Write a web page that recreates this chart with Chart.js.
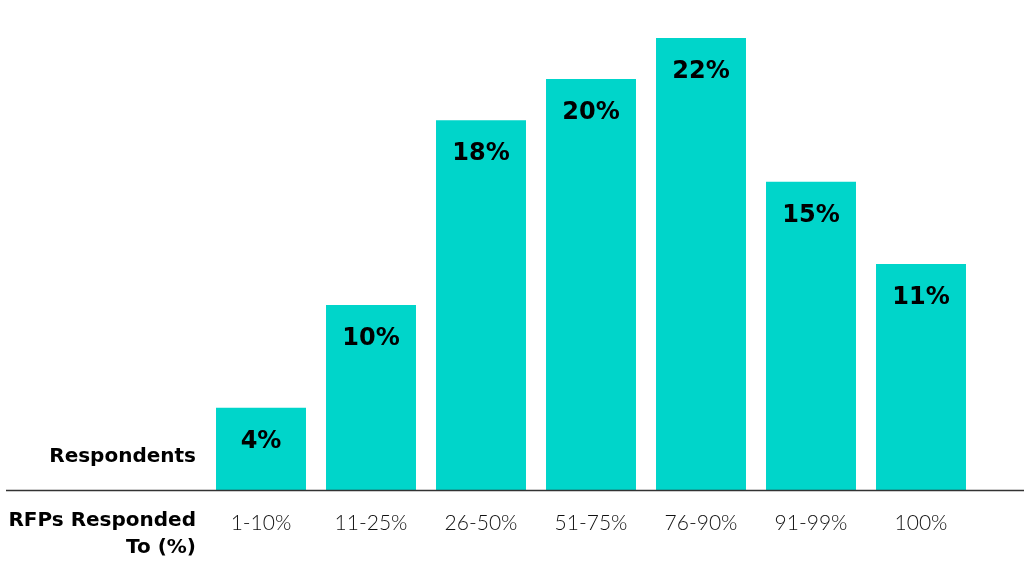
<!DOCTYPE html>
<html>
<head>
<meta charset="utf-8">
<script src="https://cdn.jsdelivr.net/npm/chart.js@4.4.1/dist/chart.umd.min.js"></script>
<style>
  html, body { margin: 0; padding: 0; background: #fff; }
  #wrap { width: 1024px; height: 580px; }
</style>
</head>
<body>
<div id="wrap"><canvas id="barGraph" width="1024" height="580"></canvas></div>
<script>
// DATA

const categories = ['1-10%', '11-25%', '26-50%', '51-75%', '76-90%', '91-99%', '100%'];
const respondents = [4, 9, 18, 20, 22, 15, 11];
const valueLabels = ['4%', '10%', '18%', '20%', '22%', '15%', '11%'];
const rowTitle = 'Respondents';
const axisTitle = ['RFPs Responded', 'To (%)'];

const teal = '#00D5CA';

// LABELS + AXIS LINE

const extras = {
    id: 'extras',
    afterDatasetsDraw(chart) {
        const ctx = chart.ctx;
        const meta = chart.getDatasetMeta(0);
        ctx.save();
        ctx.fillStyle = '#000';
        ctx.textAlign = 'center';
        ctx.textBaseline = 'middle';
        ctx.font = 'bold 24px "DejaVu Sans"';
        meta.data.forEach((bar, i) => {
            ctx.fillText(valueLabels[i], bar.x, bar.y + 34);
        });
        ctx.restore();
    },
    afterDraw(chart) {
        const ctx = chart.ctx;
        const area = chart.chartArea;
        ctx.save();
        ctx.strokeStyle = '#333';
        ctx.lineWidth = 1.5;
        ctx.beginPath();
        ctx.moveTo(6, area.bottom + 0.5);
        ctx.lineTo(chart.width, area.bottom + 0.5);
        ctx.stroke();

        ctx.fillStyle = '#000';
        ctx.textAlign = 'right';
        ctx.textBaseline = 'middle';
        ctx.font = 'bold 20px "DejaVu Sans"';
        ctx.fillText(rowTitle, 196, area.bottom - 33);
        ctx.fillText(axisTitle[0], 196, area.bottom + 31);
        ctx.fillText(axisTitle[1], 196, area.bottom + 58);
        ctx.restore();
    }
};

const ctx1 = document.getElementById('barGraph').getContext('2d');
const myChart1 = new Chart(ctx1, {
    type: 'bar',
    data: {
        labels: categories,
        datasets: [{
            label: rowTitle,
            data: respondents,
            backgroundColor: teal,
            borderWidth: 0,
            barPercentage: 0.818,
            categoryPercentage: 1.0
        }]
    },
    options: {
        responsive: false,
        animation: false,
        layout: {
            padding: { left: 206, right: 48, top: 38, bottom: 0 }
        },
        plugins: {
            legend: { display: false },
            tooltip: { enabled: false }
        },
        scales: {
            y: {
                display: false,
                min: 0,
                max: 22
            },
            x: {
                grid: { display: false },
                border: { display: false },
                afterFit(scale) { scale.height = 90; },
                ticks: {
                    color: '#111',
                    padding: 13,
                    font: { family: 'Lato', size: 21, weight: '300' }
                }
            }
        }
    },
    plugins: [extras]
});
</script>
</body>
</html>
